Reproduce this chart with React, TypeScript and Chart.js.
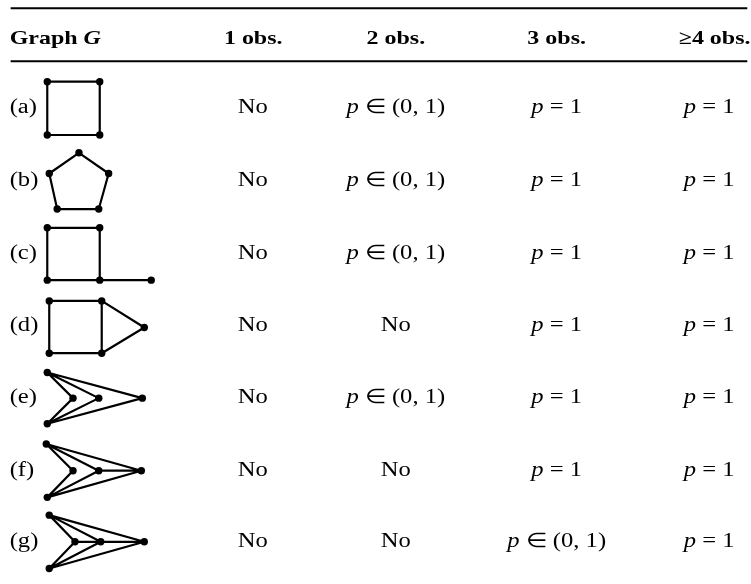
import React, { useEffect, useRef } from "react";
import { Chart, registerables } from "chart.js";

Chart.register(...registerables);

// ---- Table content ----
const headers = ["1 obs.", "2 obs.", "3 obs.", "\u22654 obs."];
const rowLabels = ["(a)", "(b)", "(c)", "(d)", "(e)", "(f)", "(g)"];
const obs1 = ["No", "No", "No", "No", "No", "No", "No"];
const obs2 = ["p \u2208 (0, 1)", "p \u2208 (0, 1)", "p \u2208 (0, 1)", "No", "p \u2208 (0, 1)", "No", "No"];
const obs3 = ["p = 1", "p = 1", "p = 1", "p = 1", "p = 1", "p = 1", "p \u2208 (0, 1)"];
const obs4 = ["p = 1", "p = 1", "p = 1", "p = 1", "p = 1", "p = 1", "p = 1"];

// ---- Graph drawings: node coordinates (local units) and edges (index pairs) ----
const nodesA = [[0, -27], [53, -27], [53, 27], [0, 27]];
const edgesA = [[0, 1], [1, 2], [2, 3], [3, 0]];
const nodesB = [[32, -29], [2, -8], [62, -8], [10, 28], [52, 28]];
const edgesB = [[0, 1], [0, 2], [1, 3], [2, 4], [3, 4]];
const nodesC = [[0, -27], [53, -27], [0, 26], [53, 26], [105, 26]];
const edgesC = [[0, 1], [1, 3], [3, 2], [2, 0], [3, 4]];
const nodesD = [[2, -26], [55, -26], [2, 27], [55, 27], [98, 1]];
const edgesD = [[0, 1], [1, 3], [3, 2], [2, 0], [1, 4], [3, 4]];
const nodesE = [[0, -26], [26, 0], [52, 0], [96, 0], [0, 26]];
const edgesE = [[0, 1], [0, 2], [0, 3], [4, 1], [4, 2], [4, 3]];
const nodesF = [[-1, -27], [26, 0], [52, 0], [95, 0], [0, 27]];
const edgesF = [[0, 1], [0, 2], [0, 3], [4, 1], [4, 2], [4, 3], [2, 3]];
const nodesG = [[2, -27], [28, 0], [54, 0], [98, 0], [2, 27]];
const edgesG = [[0, 1], [0, 2], [0, 3], [4, 1], [4, 2], [4, 3], [1, 2], [2, 3]];

const graphNodes = [nodesA, nodesB, nodesC, nodesD, nodesE, nodesF, nodesG];
const graphEdges = [edgesA, edgesB, edgesC, edgesD, edgesE, edgesF, edgesG];

// ---- Layout (chart units = pixels) ----
const W = 751;
const H = 584;
const rowCenters = [106, 180, 254, 327, 399.5, 473, 545];
const graphOriginX = 44;
const labelX = 6;
const headerX = [252, 396, 558.5, 718];
const cellX = [251.5, 396, 558.5, 712.5];
const headerBaseline = 40.5;
const ruleYs = [4.5, 58.3];
const ruleX0 = 7;
const SX = 1.23;
const FONT = '"Liberation Serif", "Times New Roman", Times, serif';

function buildDatasets() {
  const nodeSets: any[] = [];
  const edgeSets: any[] = [];
  graphNodes.forEach((nodes, gi) => {
    const cy = rowCenters[gi];
    const pts = nodes.map(([x, y]) => ({ x: graphOriginX + x, y: cy + y }));
    nodeSets.push({
      type: "scatter",
      data: pts,
      pointRadius: 3.7,
      pointHoverRadius: 3.7,
      pointBackgroundColor: "#000",
      pointBorderColor: "#000",
      pointBorderWidth: 0,
      showLine: false,
    });
    const segs: any[] = [];
    graphEdges[gi].forEach(([a, b], k) => {
      if (k > 0) segs.push({ x: null, y: null });
      segs.push(pts[a], pts[b]);
    });
    edgeSets.push({
      type: "scatter",
      data: segs,
      showLine: true,
      spanGaps: false,
      borderColor: "#000",
      borderWidth: 2.2,
      pointRadius: 0,
      pointHoverRadius: 0,
    });
  });
  return [...nodeSets, ...edgeSets];
}

function drawCell(ctx: CanvasRenderingContext2D, text: string, cx: number, by: number) {
  const size = 20;
  const parts: { t: string; f: string }[] = [];
  if (text.startsWith("p ")) {
    parts.push({ t: "p", f: `italic ${size}px ${FONT}` });
    parts.push({ t: text.slice(1), f: `${size}px ${FONT}` });
  } else {
    parts.push({ t: text, f: `${size}px ${FONT}` });
  }
  let total = 0;
  parts.forEach((p) => {
    ctx.font = p.f;
    total += ctx.measureText(p.t).width;
  });
  ctx.save();
  ctx.translate(cx, by);
  ctx.scale(SX, 1);
  let x = -total / 2;
  ctx.textAlign = "left";
  ctx.textBaseline = "alphabetic";
  parts.forEach((p) => {
    ctx.font = p.f;
    ctx.fillText(p.t, x, 0);
    x += ctx.measureText(p.t).width;
  });
  ctx.restore();
}

const tablePlugin = {
  id: "tableText",
  afterDatasetsDraw(chart: any) {
    const ctx: CanvasRenderingContext2D = chart.ctx;
    const xs = chart.scales.x;
    const ys = chart.scales.y;
    const px = (v: number) => xs.getPixelForValue(v);
    const py = (v: number) => ys.getPixelForValue(v);
    ctx.save();
    ctx.fillStyle = "#000";
    ctx.strokeStyle = "#000";
    // rules
    ctx.lineWidth = 2;
    ruleYs.forEach((ry) => {
      ctx.beginPath();
      ctx.moveTo(px(ruleX0), py(ry));
      ctx.lineTo(px(W), py(ry));
      ctx.stroke();
    });
    // header
    const hs = 19.5;
    ctx.save();
    ctx.translate(px(labelX), py(headerBaseline));
    ctx.scale(SX, 1);
    ctx.textAlign = "left";
    ctx.textBaseline = "alphabetic";
    ctx.font = `bold ${hs}px ${FONT}`;
    ctx.fillText("Graph ", 0, 0);
    const gw = ctx.measureText("Graph ").width;
    ctx.font = `italic bold ${hs}px ${FONT}`;
    ctx.fillText("G", gw, 0);
    ctx.restore();
    headers.forEach((h, i) => {
      ctx.save();
      ctx.translate(px(headerX[i]), py(headerBaseline));
      ctx.scale(SX, 1);
      ctx.textAlign = "center";
      ctx.textBaseline = "alphabetic";
      ctx.font = `bold ${hs}px ${FONT}`;
      ctx.fillText(h, 0, 0);
      ctx.restore();
    });
    // rows
    const cols = [obs1, obs2, obs3, obs4];
    rowLabels.forEach((lab, r) => {
      const by = py(rowCenters[r] + 5);
      ctx.save();
      ctx.translate(px(labelX), by);
      ctx.scale(SX, 1);
      ctx.textAlign = "left";
      ctx.textBaseline = "alphabetic";
      ctx.font = `20px ${FONT}`;
      ctx.fillText(lab, 0, 0);
      ctx.restore();
      cols.forEach((col, c) => drawCell(ctx, col[r], px(cellX[c]), by));
    });
    ctx.restore();
  },
};

export default function App() {
  const ref = useRef<HTMLCanvasElement | null>(null);
  useEffect(() => {
    if (!ref.current) return;
    const chart = new Chart(ref.current, {
      type: "scatter",
      data: { datasets: buildDatasets() },
      options: {
        animation: false,
        responsive: false,
        maintainAspectRatio: false,
        events: [],
        layout: { padding: 0 },
        plugins: {
          legend: { display: false },
          tooltip: { enabled: false },
          title: { display: false },
        },
        scales: {
          x: { type: "linear", min: 0, max: W, display: false },
          y: { type: "linear", min: 0, max: H, reverse: true, display: false },
        },
      },
      plugins: [tablePlugin],
    } as any);
    let alive = true;
    const fonts: any = (document as any).fonts;
    if (fonts && fonts.load) {
      Promise.all([
        fonts.load(`20px "Liberation Serif"`),
        fonts.load(`italic 20px "Liberation Serif"`),
        fonts.load(`bold 20px "Liberation Serif"`),
        fonts.load(`italic bold 20px "Liberation Serif"`),
      ])
        .then(() => {
          if (alive) chart.update();
        })
        .catch(() => {});
    }
    return () => {
      alive = false;
      chart.destroy();
    };
  }, []);
  return (
    <div style={{ position: "absolute", left: 0, top: 0, width: W, height: H, background: "#fff", fontFamily: '"Liberation Serif", serif' }}>
      <canvas ref={ref} width={W} height={H} style={{ display: "block" }} />
    </div>
  );
}
